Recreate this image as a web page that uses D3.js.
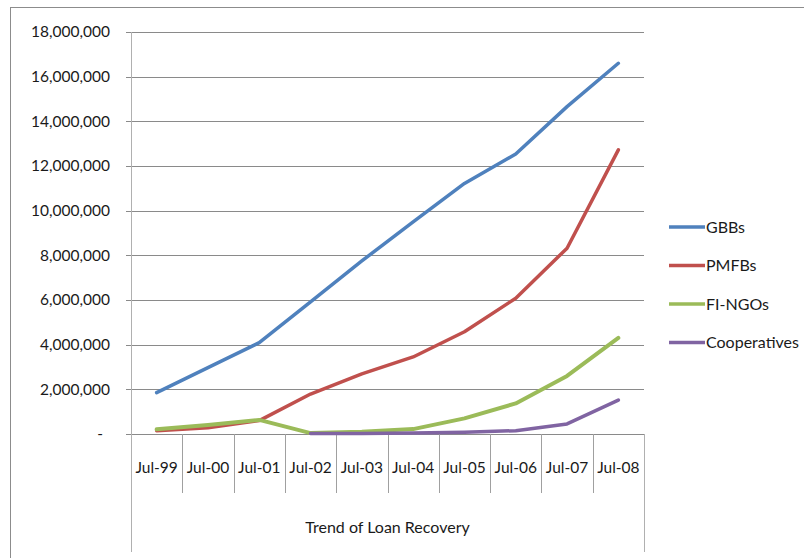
<!DOCTYPE html>
<html>
<head>
<meta charset="utf-8">
<script src="https://cdn.jsdelivr.net/npm/d3@7"></script>
<style>
  html, body { margin: 0; padding: 0; background: #fff; }
  svg { display: block; font-family: Lato, "Open Sans", sans-serif; }
</style>
</head>
<body>
<svg id="chart" width="804" height="558"></svg>
<script>
// Loan recovery by institution type, July 1999 – July 2008
const categories = ["Jul-99", "Jul-00", "Jul-01", "Jul-02", "Jul-03", "Jul-04", "Jul-05", "Jul-06", "Jul-07", "Jul-08"];
const gbbs        = [1850000, 2970000, 4090000, 5920000, 7750000, 9500000, 11220000, 12540000, 14660000, 16600000];
const pmfbs       = [150000, 280000, 600000, 1790000, 2690000, 3450000, 4580000, 6080000, 8320000, 12720000];
const fiNgos      = [210000, 400000, 630000, 40000, 100000, 220000, 700000, 1370000, 2600000, 4300000];
const cooperatives = [null, null, null, 20000, 25000, 40000, 80000, 150000, 450000, 1520000];
const seriesNames = ["GBBs", "PMFBs", "FI-NGOs", "Cooperatives"];
const seriesColors = ["#4F81BD", "#C0504D", "#9BBB59", "#8064A2"];
const yTicks = [0, 2000000, 4000000, 6000000, 8000000, 10000000, 12000000, 14000000, 16000000, 18000000];
const axisTitle = "Trend of Loan Recovery";

const series = [gbbs, pmfbs, fiNgos, cooperatives].map((vals, i) => ({
  name: seriesNames[i], color: seriesColors[i], values: vals
}));

const svg = d3.select("#chart");
const plot = { left: 131, right: 644, top: 32, bottom: 434 };
const frameBottom = 552, labelRowBottom = 493;
const textColor = "#1a1a1a";

const x = d3.scaleBand().domain(categories).range([plot.left, plot.right]).padding(0);
const y = d3.scaleLinear().domain([0, 18000000]).range([plot.bottom, plot.top]);

// outer chart frame
svg.append("rect")
  .attr("x", 10.5).attr("y", 7.5).attr("width", 820).attr("height", 600)
  .attr("fill", "none").attr("stroke", "#8c8c8c").attr("stroke-width", 1);

// horizontal gridlines with short outside ticks
svg.append("g").selectAll("line").data(yTicks).join("line")
  .attr("x1", plot.left - 5).attr("x2", plot.right)
  .attr("y1", d => Math.round(y(d)) + 0.5).attr("y2", d => Math.round(y(d)) + 0.5)
  .attr("stroke", "#8a8a8a").attr("stroke-width", 1);

// y tick labels
const fmt = d3.format(",");
svg.append("g").selectAll("text").data(yTicks).join("text")
  .attr("x", d => d === 0 ? 103 : 110)
  .attr("y", d => y(d))
  .attr("dy", "0.35em")
  .attr("text-anchor", "end")
  .attr("font-size", 15.5)
  .attr("fill", textColor)
  .text(d => d === 0 ? "-" : fmt(d));

// vertical axis line (runs down through the category label area)
svg.append("line")
  .attr("x1", plot.left + 0.5).attr("x2", plot.left + 0.5)
  .attr("y1", plot.top).attr("y2", frameBottom)
  .attr("stroke", "#b0b0b0");
svg.append("line")
  .attr("x1", plot.right + 0.5).attr("x2", plot.right + 0.5)
  .attr("y1", plot.bottom).attr("y2", frameBottom)
  .attr("stroke", "#b0b0b0");

// category separators
svg.append("g").selectAll("line").data(categories.slice(1)).join("line")
  .attr("x1", d => Math.round(x(d)) + 0.5).attr("x2", d => Math.round(x(d)) + 0.5)
  .attr("y1", plot.bottom).attr("y2", labelRowBottom)
  .attr("stroke", "#a0a0a0");

// category labels
svg.append("g").selectAll("text").data(categories).join("text")
  .attr("x", d => x(d) + x.bandwidth() / 2)
  .attr("y", 468)
  .attr("dy", "0.35em")
  .attr("text-anchor", "middle")
  .attr("font-size", 15.5)
  .attr("fill", textColor)
  .text(d => d);

// grouping title below the categories
svg.append("text")
  .attr("x", (plot.left + plot.right) / 2)
  .attr("y", 527)
  .attr("dy", "0.35em")
  .attr("text-anchor", "middle")
  .attr("font-size", 16)
  .attr("fill", textColor)
  .text(axisTitle);

// series lines
const line = d3.line()
  .defined(d => d.v != null)
  .x(d => x(d.c) + x.bandwidth() / 2)
  .y(d => y(d.v));

svg.append("g").selectAll("path").data(series).join("path")
  .attr("d", s => line(s.values.map((v, i) => ({ c: categories[i], v }))))
  .attr("fill", "none")
  .attr("stroke", s => s.color)
  .attr("stroke-width", s => s.name === "FI-NGOs" ? 4 : 3.5)
  .attr("stroke-linejoin", "round")
  .attr("stroke-linecap", "round");

// legend
const legend = svg.append("g").selectAll("g").data(series).join("g")
  .attr("transform", (d, i) => `translate(669, ${227 + i * 38.5})`);
legend.append("line")
  .attr("x1", 0).attr("x2", 36).attr("y1", 0).attr("y2", 0)
  .attr("stroke", d => d.color).attr("stroke-width", 3.5);
legend.append("text")
  .attr("x", 37).attr("y", 0).attr("dy", "0.35em")
  .attr("font-size", 16).attr("fill", textColor)
  .text(d => d.name);
</script>
</body>
</html>
